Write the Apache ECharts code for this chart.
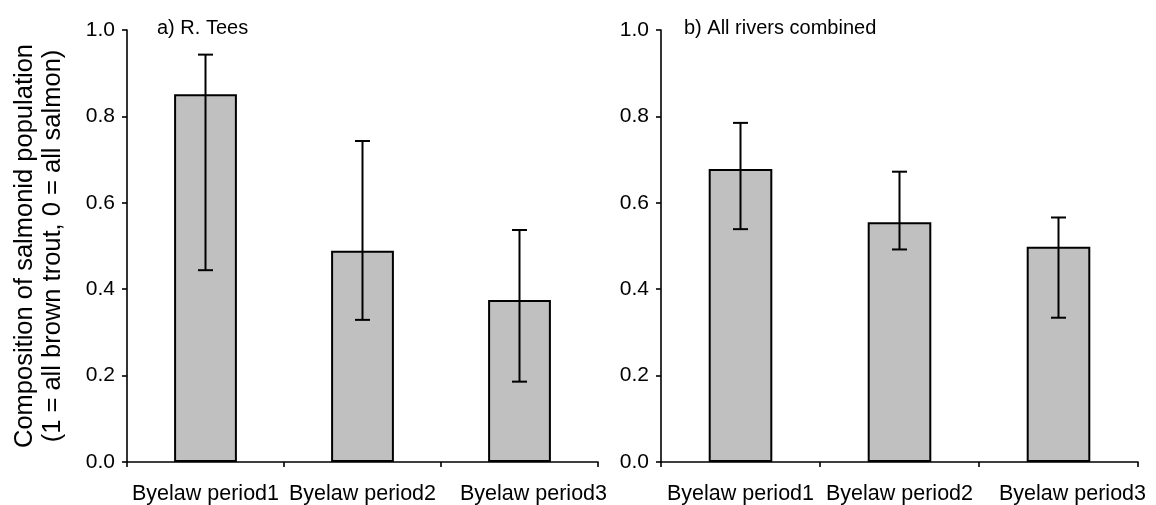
<!DOCTYPE html>
<html>
<head>
<meta charset="utf-8">
<script src="https://cdn.jsdelivr.net/npm/echarts@6/dist/echarts.min.js"></script>
<style>
  html, body { margin: 0; padding: 0; background: #fff; }
  #chart { width: 1156px; height: 505px; }
</style>
</head>
<body>
<div id="chart"></div>
<script>
var categories = ['Byelaw period1', 'Byelaw period2', 'Byelaw period3'];
var yTicks = ['0.0', '0.2', '0.4', '0.6', '0.8', '1.0'];

// a) R. Tees
var teesMean = [0.851, 0.489, 0.375];
var teesLow = [0.444, 0.329, 0.186];
var teesHigh = [0.943, 0.743, 0.537];

// b) All rivers combined
var allMean = [0.678, 0.555, 0.498];
var allLow = [0.539, 0.492, 0.334];
var allHigh = [0.785, 0.672, 0.566];

var chartDom = document.getElementById('chart');
var myChart = echarts.init(chartDom);

var font = 'Liberation Sans, Arial, sans-serif';

function errData(low, high) {
  return low.map(function (v, i) { return [i, v, high[i]]; });
}

function renderErr(params, api) {
  var x = api.value(0);
  var lo = api.coord([x, api.value(1)]);
  var hi = api.coord([x, api.value(2)]);
  var half = 7.5;
  var st = { stroke: '#000', lineWidth: 2 };
  return {
    type: 'group',
    children: [
      { type: 'line', shape: { x1: hi[0], y1: hi[1], x2: lo[0], y2: lo[1] }, style: st },
      { type: 'line', shape: { x1: hi[0] - half, y1: hi[1], x2: hi[0] + half, y2: hi[1] }, style: st },
      { type: 'line', shape: { x1: lo[0] - half, y1: lo[1], x2: lo[0] + half, y2: lo[1] }, style: st }
    ]
  };
}

function xAxis(idx) {
  return {
    type: 'category',
    gridIndex: idx,
    data: categories,
    axisLine: { lineStyle: { color: '#000', width: 1.6 } },
    axisTick: { show: true, interval: 0, length: 5, lineStyle: { color: '#000', width: 1.6 } },
    axisLabel: {
      color: '#000', fontSize: 21.5, fontFamily: font, margin: 21, interval: 0,
      // last label sits a little right of its category in the original
      formatter: function (v, i) { return i === 2 ? '{s|' + v + '}' : v; },
      rich: { s: { fontSize: 21.5, fontFamily: font, color: '#000', padding: [0, 0, 0, 28] } }
    }
  };
}

function yAxis(idx, withName) {
  var ax = {
    type: 'value',
    gridIndex: idx,
    min: 0,
    max: 1,
    interval: 0.2,
    splitLine: { show: false },
    axisLine: { show: true, lineStyle: { color: '#000', width: 1.6 } },
    axisTick: { show: true, length: 5, lineStyle: { color: '#000', width: 1.6 } },
    axisLabel: {
      color: '#000', fontSize: 21, fontFamily: font, margin: 12,
      formatter: function (v) { return yTicks[Math.round(v * 5)]; }
    }
  };
  if (withName) {
    ax.name = 'Composition of salmonid population\n(1 = all brown trout, 0 = all salmon)';
    ax.nameLocation = 'middle';
    ax.nameGap = 60;
    ax.nameTextStyle = { color: '#000', fontSize: 25.5, fontFamily: font, lineHeight: 28 };
  }
  return ax;
}

var option = {
  animation: false,
  backgroundColor: '#fff',
  title: [
    { text: 'a) R. Tees', left: 152, top: 13, textStyle: { fontSize: 20, fontWeight: 'normal', color: '#000', fontFamily: font } },
    { text: 'b) All rivers combined', left: 679, top: 13, textStyle: { fontSize: 20, fontWeight: 'normal', color: '#000', fontFamily: font } }
  ],
  grid: [
    { left: 127, top: 30, width: 471, height: 432 },
    { left: 661, top: 30, width: 477, height: 432 }
  ],
  xAxis: [xAxis(0), xAxis(1)],
  yAxis: [yAxis(0, true), yAxis(1, false)],
  series: [
    {
      type: 'bar', xAxisIndex: 0, yAxisIndex: 0, data: teesMean, barWidth: '40%',
      itemStyle: { color: '#c0c0c0', borderColor: '#000', borderWidth: 2 }
    },
    {
      type: 'custom', xAxisIndex: 0, yAxisIndex: 0, data: errData(teesLow, teesHigh),
      renderItem: renderErr, z: 5
    },
    {
      type: 'bar', xAxisIndex: 1, yAxisIndex: 1, data: allMean, barWidth: '40%',
      itemStyle: { color: '#c0c0c0', borderColor: '#000', borderWidth: 2 }
    },
    {
      type: 'custom', xAxisIndex: 1, yAxisIndex: 1, data: errData(allLow, allHigh),
      renderItem: renderErr, z: 5
    }
  ]
};

option && myChart.setOption(option);
</script>
</body>
</html>
